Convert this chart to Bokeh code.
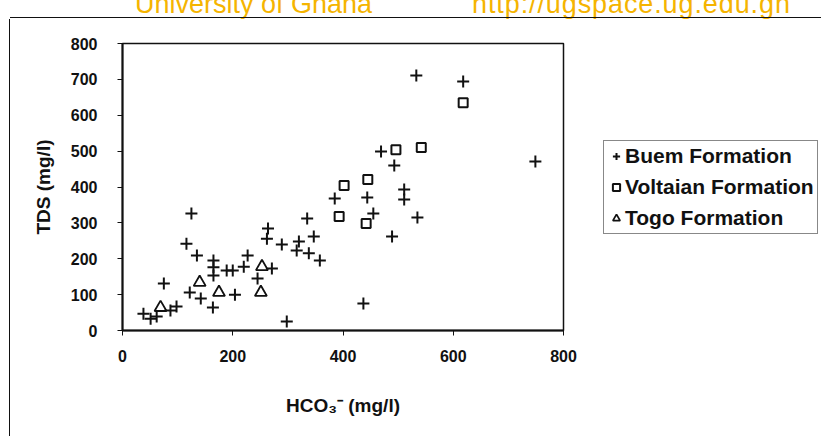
from bokeh.plotting import figure
from bokeh.models import Legend, LegendItem, FixedTicker, Range1d, Div
from bokeh.layouts import column, row
from bokeh.embed import file_html
from bokeh.resources import INLINE

# ---- data ----
buem_hco3 = [533, 618, 469, 493, 749, 444, 511, 511, 455, 535, 489, 437,
             385, 335, 264, 262, 289, 320, 347, 316, 338, 358, 227, 220,
             200, 271, 245, 204, 298, 125, 116, 135, 165, 165, 189, 165,
             122, 75, 142, 164, 98, 62, 38, 87, 51]
buem_tds = [711, 694, 499, 460, 471, 371, 393, 365, 326, 315, 262, 75,
            368, 312, 284, 256, 240, 248, 262, 223, 215, 195, 209, 178,
            167, 173, 145, 100, 25, 326, 242, 209, 195, 176, 167, 153,
            106, 131, 89, 64, 67, 39, 47, 56, 33]

volt_hco3 = [618, 496, 542, 445, 402, 393, 442]
volt_tds = [635, 504, 510, 421, 404, 318, 298]

togo_hco3 = [253, 251, 140, 175, 69]
togo_tds = [178, 106, 134, 106, 64]

x_ticks = [0, 200, 400, 600, 800]
y_ticks = [0, 100, 200, 300, 400, 500, 600, 700, 800]

series_names = ["Buem Formation", "Voltaian Formation", "Togo Formation"]
x_label = "HCO\u2083\u207b (mg/l)"
y_label = "TDS (mg/l)"
watermark_left = "University of Ghana"
watermark_right = "http://ugspace.ug.edu.gh"

FONT = "Liberation Sans"
INK = "#111111"
ORANGE = "#F5B400"

series = [(buem_hco3, buem_tds), (volt_hco3, volt_tds), (togo_hco3, togo_tds)]
marker_styles = [
    dict(marker="cross", size=12, line_color=INK, line_width=2),
    dict(marker="square", size=9, fill_color=None, line_color=INK, line_width=2),
    dict(marker="triangle", size=12, fill_color=None, line_color=INK, line_width=1.8),
]

# ---- main chart ----
p = figure(width=589, height=417, output_backend="svg", toolbar_location=None,
           x_range=Range1d(0, 800), y_range=Range1d(0, 800),
           min_border_left=111, min_border_right=37,
           min_border_top=24, min_border_bottom=106, margin=0)
p.grid.visible = False
p.background_fill_color = "white"
p.border_fill_color = "white"
p.outline_line_color = INK
p.outline_line_width = 1.5

for (xs, ys), st in zip(series, marker_styles):
    p.scatter(xs, ys, **st)

for ax in (p.xaxis[0], p.yaxis[0]):
    ax.axis_line_color = INK
    ax.axis_line_width = 2
    ax.major_tick_line_color = INK
    ax.major_tick_line_width = 1
    ax.major_tick_in = 0
    ax.major_tick_out = 5
    ax.minor_tick_line_color = None
    ax.major_label_text_font = FONT
    ax.major_label_text_font_style = "bold"
    ax.major_label_text_font_size = "16px"
    ax.major_label_text_color = INK
    ax.axis_label_text_font = FONT
    ax.axis_label_text_font_style = "bold"
    ax.axis_label_text_font_size = "19px"
    ax.axis_label_text_color = INK

p.xaxis.ticker = FixedTicker(ticks=x_ticks)
p.yaxis.ticker = FixedTicker(ticks=y_ticks)
p.xaxis.axis_label = x_label
p.yaxis.axis_label = y_label
p.xaxis.major_label_standoff = 14
p.yaxis.major_label_standoff = 20
p.xaxis.axis_label_standoff = 30
p.yaxis.axis_label_standoff = 14

# ---- legend panel (own canvas; its data lie outside its view) ----
# its top/bottom borders are synced with the main chart by the row layout
lg = figure(width=221, height=417, output_backend="svg", toolbar_location=None,
            x_axis_type=None, y_axis_type=None, margin=0, min_border=0,
            x_range=Range1d(-2, -1), y_range=Range1d(-2, -1))
lg.grid.visible = False
lg.outline_line_color = None
lg.background_fill_color = "white"
lg.border_fill_color = "white"
items = []
for name, (xs, ys), st in zip(series_names, series, marker_styles):
    r = lg.scatter(xs, ys, **st)
    items.append(LegendItem(label=name, renderers=[r]))

legend = Legend(items=items, location=(3, 96))
legend.border_line_color = INK
legend.border_line_width = 1.5
legend.background_fill_color = "white"
legend.background_fill_alpha = 1
legend.label_text_font = FONT
legend.label_text_font_style = "bold"
legend.label_text_font_size = "21px"
legend.label_text_color = INK
legend.glyph_width = 18
legend.glyph_height = 20
legend.label_height = 22
legend.spacing = 7
legend.padding = 3
legend.margin = 0
legend.label_standoff = 0
lg.add_layout(legend)

# ---- header watermark and outer border ----
span_style = ("position:absolute;top:-9px;line-height:27px;white-space:nowrap;"
              "font-family:'Liberation Sans',Arial,sans-serif;font-size:27px;"
              "color:%s;" % ORANGE)
header_html = (
    '<div style="position:relative;width:821px;height:19px;overflow:hidden;">'
    '<span style="%sleft:135px;">%s</span>'
    '<span style="%sleft:472px;letter-spacing:0.9px;">%s</span>'
    '<div style="position:absolute;left:10px;top:17px;width:811px;height:0;'
    'border-top:1.5px solid %s;"></div>'
    '</div>' % (span_style, watermark_left, span_style, watermark_right, INK)
)
header = Div(text=header_html, width=821, height=19, margin=0)

left_edge = Div(
    text='<div style="position:relative;width:11px;height:417px;">'
         '<div style="position:absolute;left:9px;top:0;width:0;height:417px;'
         'border-left:1.5px solid %s;"></div></div>' % INK,
    width=11, height=417, margin=0)

layout = column(header, row(left_edge, p, lg, margin=0, spacing=0),
                margin=0, spacing=0)

open("out.html", "w").write(file_html(layout, INLINE))
